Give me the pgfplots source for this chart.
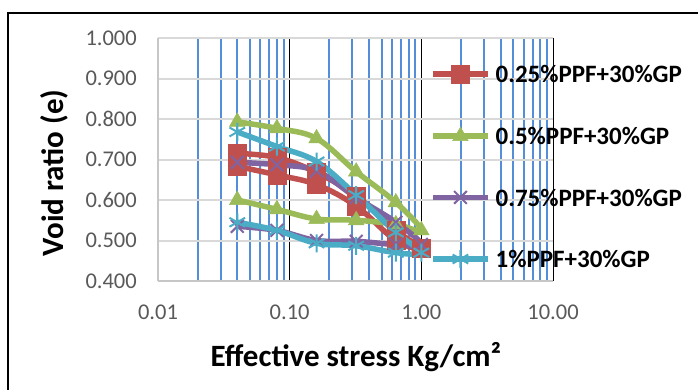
\documentclass[border=0pt]{standalone}
\usepackage{fontspec}
\setmainfont{Carlito}
\usepackage{pgfplots}
\pgfplotsset{compat=1.18}
\definecolor{cRed}{HTML}{C0504D}
\definecolor{cGreen}{HTML}{9BBB59}
\definecolor{cPurple}{HTML}{8064A2}
\definecolor{cCyan}{HTML}{4BACC6}
\definecolor{gridblue}{HTML}{558ED8}
\definecolor{gridgray}{HTML}{D9D9D9}
\definecolor{ticktext}{HTML}{595959}
\begin{document}
\begin{tikzpicture}[x=1bp,y=1bp]
\useasboundingbox (0,0) rectangle (698,389);
\draw[line width=2bp] (8,-10) -- (8,376) -- (720,376);
\begin{axis}[
  at={(158bp,108bp)}, anchor=south west,
  width=395bp, height=243bp, scale only axis,
  xmode=log, log basis x=10,
  xmin=0.01, xmax=10, ymin=0.4, ymax=1.0,
  xtick={0.01,0.1,1,10}, xticklabels={0.01,0.10,1.00,10.00},
  minor xtick={0.02,0.03,0.04,0.05,0.06,0.07,0.08,0.09,0.2,0.3,0.4,0.5,0.6,0.7,0.8,0.9,2,3,4,5,6,7,8,9},
  ytick={0.4,0.5,0.6,0.7,0.8,0.9,1.0},
  yticklabels={0.400,0.500,0.600,0.700,0.800,0.900,1.000},
  xmajorgrids, xminorgrids, ymajorgrids,
  major x grid style={black, line width=1bp},
  minor x grid style={gridblue, line width=2bp},
  major y grid style={gridgray, line width=2bp},
  axis x line*=bottom, axis y line*=left,
  axis line style={gridgray!80!gray, line width=2bp, -},
  major tick length=0pt, minor tick length=0pt,
  tick label style={font=\fontsize{22.5bp}{26bp}\selectfont, text=ticktext},
  xticklabel style={anchor=north, yshift=-24bp, inner sep=0pt},
  yticklabel style={anchor=east, xshift=-21bp, inner sep=0pt},
  xlabel={Effective stress Kg/cm²},
  xlabel style={at={(axis description cs:0.501,-0.353)}, anchor=base, font=\bfseries\fontsize{31bp}{34bp}\selectfont},
  ylabel={Void ratio (e)},
  ylabel style={at={(axis description cs:-0.2405,0.444)}, anchor=base, rotate=0, font=\bfseries\fontsize{31bp}{34bp}\selectfont},
  legend style={at={(axis description cs:0.6886,0.889)}, anchor=north west, draw=none, fill=none, inner sep=0pt, row sep=44bp, column sep=5bp, font=\bfseries\fontsize{25bp}{28bp}\selectfont, nodes={inner sep=0pt, text depth=0pt}},
  legend cell align=left,
  legend image code/.code={\draw[mark repeat=2, mark phase=2] plot coordinates {(0bp,0bp) (27.5bp,0bp) (55bp,0bp)};},
  every axis plot/.append style={line width=5.5bp, smooth, tension=0.6},
]
\addplot[color=cRed, mark=square*, mark size=9bp, mark options={solid, line width=0.5bp, fill=cRed}] coordinates {
 (0.04,0.715) (0.08,0.705) (0.16,0.668) (0.32,0.610) (0.64,0.525) (1.0,0.480)
 (0.64,0.500) (0.32,0.585) (0.16,0.638) (0.08,0.662) (0.04,0.683)};
\addplot[color=cGreen, mark=triangle*, mark size=9bp, mark options={solid, line width=0.5bp, fill=cGreen}] coordinates {
 (0.04,0.793) (0.08,0.777) (0.16,0.752) (0.32,0.670) (0.64,0.594) (1.0,0.525)
 (0.64,0.540) (0.32,0.550) (0.16,0.553) (0.08,0.577) (0.04,0.600)};
\addplot[color=cPurple, mark=x, mark size=9bp, mark options={solid, line width=2bp}] coordinates {
 (0.04,0.693) (0.08,0.687) (0.16,0.672) (0.32,0.606) (0.64,0.545) (1.0,0.490)
 (0.64,0.490) (0.32,0.498) (0.16,0.500) (0.08,0.525) (0.04,0.535)};
\addplot[color=cCyan, mark=asterisk, mark size=9bp, mark options={solid, line width=2bp}] coordinates {
 (0.04,0.768) (0.08,0.732) (0.16,0.695) (0.32,0.612) (0.64,0.520) (1.0,0.470)
 (0.64,0.470) (0.32,0.487) (0.16,0.493) (0.08,0.525) (0.04,0.545)};
\legend{0.25\%PPF+30\%GP, 0.5\%PPF+30\%GP, 0.75\%PPF+30\%GP, 1\%PPF+30\%GP}
\end{axis}
\end{tikzpicture}
\end{document}
